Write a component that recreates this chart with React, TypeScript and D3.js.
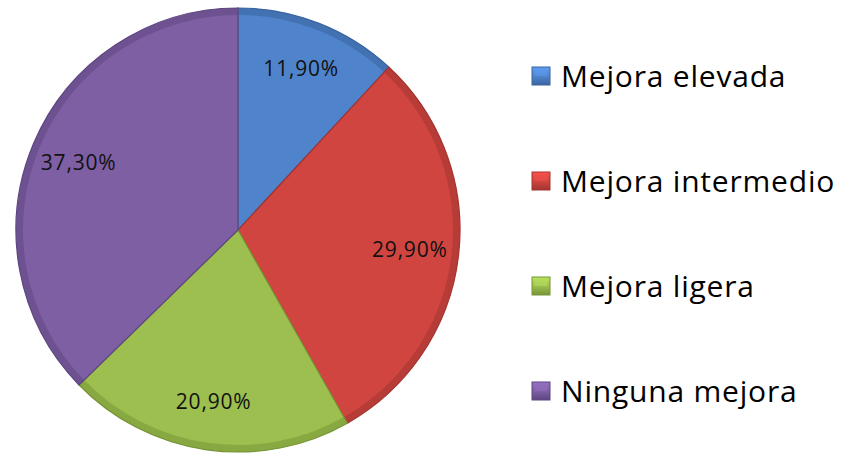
import React from "react";
import * as d3 from "d3";

const categories = ["Mejora elevada", "Mejora intermedio", "Mejora ligera", "Ninguna mejora"];
const values = [11.9, 29.9, 20.9, 37.3];
const labels = ["11,90%", "29,90%", "20,90%", "37,30%"];
const colors = ["#4F84CC", "#D0453F", "#9CBF4F", "#7E5FA4"];
const darkColors = ["#3A659F", "#A33431", "#789536", "#5E4580"];

const width = 848;
const height = 453;
const cx = 238;
const cy = 230;
const radius = 222;
const labelRadius = 173;
const font = "'Open Sans', Lato, sans-serif";

export default function App() {
  const pie = d3.pie<number>().sort(null)(values);
  const arc = d3.arc<d3.PieArcDatum<number>>().innerRadius(0).outerRadius(radius);
  const rim = d3.arc<d3.PieArcDatum<number>>().innerRadius(radius - 7).outerRadius(radius);
  const labelArc = d3.arc<d3.PieArcDatum<number>>().innerRadius(labelRadius).outerRadius(labelRadius);

  const legendY = d3.scalePoint<string>().domain(categories).range([76, 391]);

  return (
    <svg width={width} height={height} style={{ position: "absolute", left: 0, top: 0 }}>
      <defs>
        {colors.map((c, i) => (
          <linearGradient key={i} id={`lg${i}`} x1="0" y1="0" x2="0" y2="1">
            <stop offset="0" stopColor={d3.color(c)!.brighter(0.5).toString()} />
            <stop offset="0.5" stopColor={c} />
            <stop offset="1" stopColor={darkColors[i]} />
          </linearGradient>
        ))}
      </defs>
      <rect width={width} height={height} fill="#fff" />
      <g transform={`translate(${cx},${cy})`}>
        {pie.map((s, i) => (
          <g key={i}>
            <path d={arc(s)!} fill={colors[i]} />
            <path d={rim(s)!} fill={darkColors[i]} opacity={0.55} />
            <path d={arc(s)!} fill="none" stroke={darkColors[i]} strokeWidth={1.2} />
          </g>
        ))}
        {pie.map((s, i) => {
          const [x, y] = labelArc.centroid(s);
          return (
            <text
              key={`t${i}`}
              x={x}
              y={y}
              dy="0.35em"
              textAnchor="middle"
              fontFamily={font}
              fontSize={21}
              letterSpacing={0.8}
              fill="#111"
            >
              {labels[i]}
            </text>
          );
        })}
      </g>
      {categories.map((c, i) => {
        const y = legendY(c)!;
        return (
          <g key={c}>
            <rect x={532} y={y - 9} width={18} height={18} fill={`url(#lg${i})`} stroke={darkColors[i]} strokeWidth={1} />
            <rect x={535} y={y - 6} width={12} height={6} fill={d3.color(colors[i])!.brighter(0.4).toString()} opacity={0.6} />
            <text
              x={561}
              y={y}
              dy="0.35em"
              fontFamily={font}
              fontSize={30}
              letterSpacing={0.8}
              fill="#000"
            >
              {c}
            </text>
          </g>
        );
      })}
    </svg>
  );
}
